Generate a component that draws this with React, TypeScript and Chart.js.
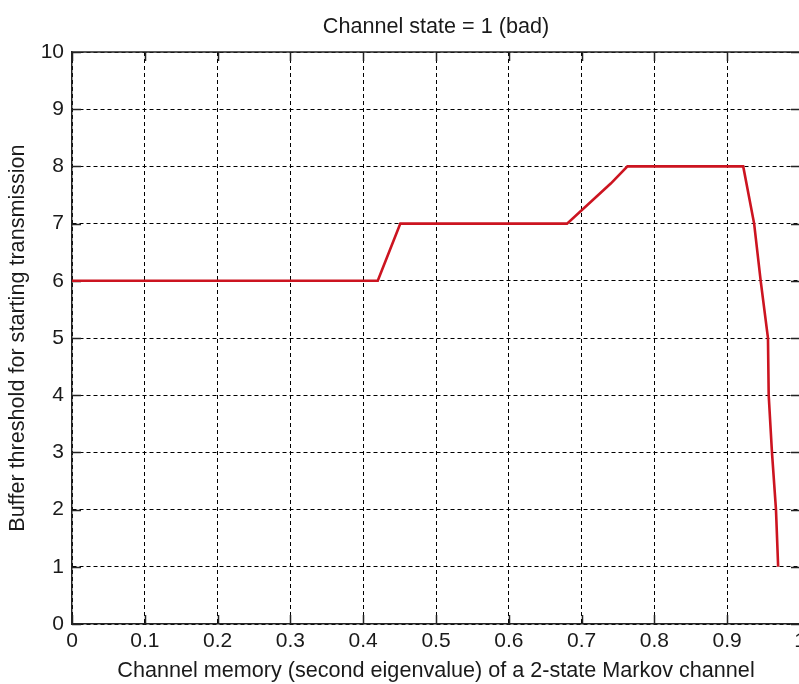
import React, { useEffect, useRef } from 'react';
import { Chart, registerables } from 'chart.js';

Chart.register(...registerables);

// Channel memory (x) and the resulting buffer threshold (y)
const memory = [0, 0.42, 0.451, 0.68, 0.74, 0.763, 0.922, 0.937, 0.946, 0.956, 0.957, 0.9615, 0.967, 0.97];
const threshold = [6, 6, 7, 7, 7.7, 8, 8, 7, 6, 5, 4, 3, 2, 1];

const xTicks = [0, 0.1, 0.2, 0.3, 0.4, 0.5, 0.6, 0.7, 0.8, 0.9, 1];
const xTickLabels = ['0', '0.1', '0.2', '0.3', '0.4', '0.5', '0.6', '0.7', '0.8', '0.9', '1'];
const yTicks = [0, 1, 2, 3, 4, 5, 6, 7, 8, 9, 10];
const yTickLabels = ['0', '1', '2', '3', '4', '5', '6', '7', '8', '9', '10'];

const titleText = 'Channel state = 1 (bad)';
const xTitle = 'Channel memory (second eigenvalue) of a 2-state Markov channel';
const yTitle = 'Buffer threshold for starting transmission';

const FONT = "'Liberation Sans', Arial, Helvetica, sans-serif";
const TEXT = '#1a1a1a';
const AXIS = '#222';

// MATLAB-style frame: closed box with short inward ticks on all four sides
const boxPlugin = {
  id: 'boxFrame',
  beforeDatasetsDraw(chart: any) {
    const { ctx, chartArea: a, scales } = chart;
    const len = 9;
    ctx.save();
    ctx.strokeStyle = AXIS;
    ctx.lineWidth = 1.5;
    ctx.setLineDash([]);
    ctx.beginPath();
    ctx.moveTo(a.left, a.top);
    ctx.lineTo(a.right, a.top);
    ctx.moveTo(a.right, a.top);
    ctx.lineTo(a.right, a.bottom);
    for (const v of xTicks) {
      const px = Math.round(scales.x.getPixelForValue(v)) + 0.5;
      ctx.moveTo(px, a.bottom);
      ctx.lineTo(px, a.bottom - len);
      ctx.moveTo(px, a.top);
      ctx.lineTo(px, a.top + len);
    }
    for (const v of yTicks) {
      const py = Math.round(scales.y.getPixelForValue(v)) + 0.5;
      ctx.moveTo(a.left, py);
      ctx.lineTo(a.left + len, py);
      ctx.moveTo(a.right, py);
      ctx.lineTo(a.right - len, py);
    }
    ctx.stroke();
    ctx.restore();
  },
  afterDraw(chart: any) {
    const { ctx, chartArea: a } = chart;
    ctx.save();
    ctx.font = `21.6px ${FONT}`;
    ctx.fillStyle = TEXT;
    ctx.textAlign = 'center';
    ctx.textBaseline = 'middle';
    ctx.fillText(titleText, (a.left + a.right) / 2, 27.5);
    ctx.restore();
  },
};

export default function App() {
  const canvasRef = useRef<HTMLCanvasElement | null>(null);

  useEffect(() => {
    const canvas = canvasRef.current;
    if (!canvas) return;
    const chart = new Chart(canvas, {
      type: 'line',
      data: {
        datasets: [
          {
            data: memory.map((x, i) => ({ x, y: threshold[i] })),
            borderColor: '#cc1420',
            borderWidth: 2.6,
            pointRadius: 0,
            fill: false,
            tension: 0,
          },
        ],
      },
      options: {
        animation: false,
        responsive: false,
        devicePixelRatio: 1,
        layout: { padding: { top: 52, right: 40, left: 0, bottom: 0 } },
        plugins: {
          legend: { display: false },
          tooltip: { enabled: false },
          title: { display: false },
        },
        scales: {
          x: {
            type: 'linear',
            min: 0,
            max: 1,
            afterBuildTicks: (s: any) => {
              s.ticks = xTicks.map((value) => ({ value }));
            },
            afterFit: (s: any) => {
              s.height = 60;
            },
            ticks: {
              callback: (_v: any, i: number) => xTickLabels[i],
              font: { family: FONT, size: 21 },
              color: TEXT,
              padding: 5,
              maxRotation: 0,
              autoSkip: false,
            },
            grid: { color: '#000', lineWidth: 1, drawTicks: false },
            border: { display: true, color: AXIS, width: 1.5, dash: [4, 3] },
            title: {
              display: true,
              text: xTitle,
              font: { family: FONT, size: 21.6 },
              color: TEXT,
              padding: { top: 0, bottom: 0 },
            },
          },
          y: {
            type: 'linear',
            min: 0,
            max: 10,
            afterBuildTicks: (s: any) => {
              s.ticks = yTicks.map((value) => ({ value }));
            },
            afterFit: (s: any) => {
              s.width = 72;
            },
            ticks: {
              callback: (_v: any, i: number) => yTickLabels[i],
              font: { family: FONT, size: 21 },
              color: TEXT,
              padding: 8,
              autoSkip: false,
            },
            grid: { color: '#000', lineWidth: 1, drawTicks: false },
            border: { display: true, color: AXIS, width: 1.5, dash: [4, 3] },
            title: {
              display: true,
              text: yTitle,
              font: { family: FONT, size: 21.6 },
              color: TEXT,
              padding: { top: 5.5, bottom: 0 },
            },
          },
        },
      },
      plugins: [boxPlugin],
    });
    return () => chart.destroy();
  }, []);

  return (
    <div
      style={{
        position: 'fixed',
        left: 0,
        top: 0,
        width: 799,
        height: 684,
        overflow: 'hidden',
        background: '#fff',
      }}
    >
      <canvas ref={canvasRef} width={840} height={684} style={{ display: 'block' }} />
    </div>
  );
}
